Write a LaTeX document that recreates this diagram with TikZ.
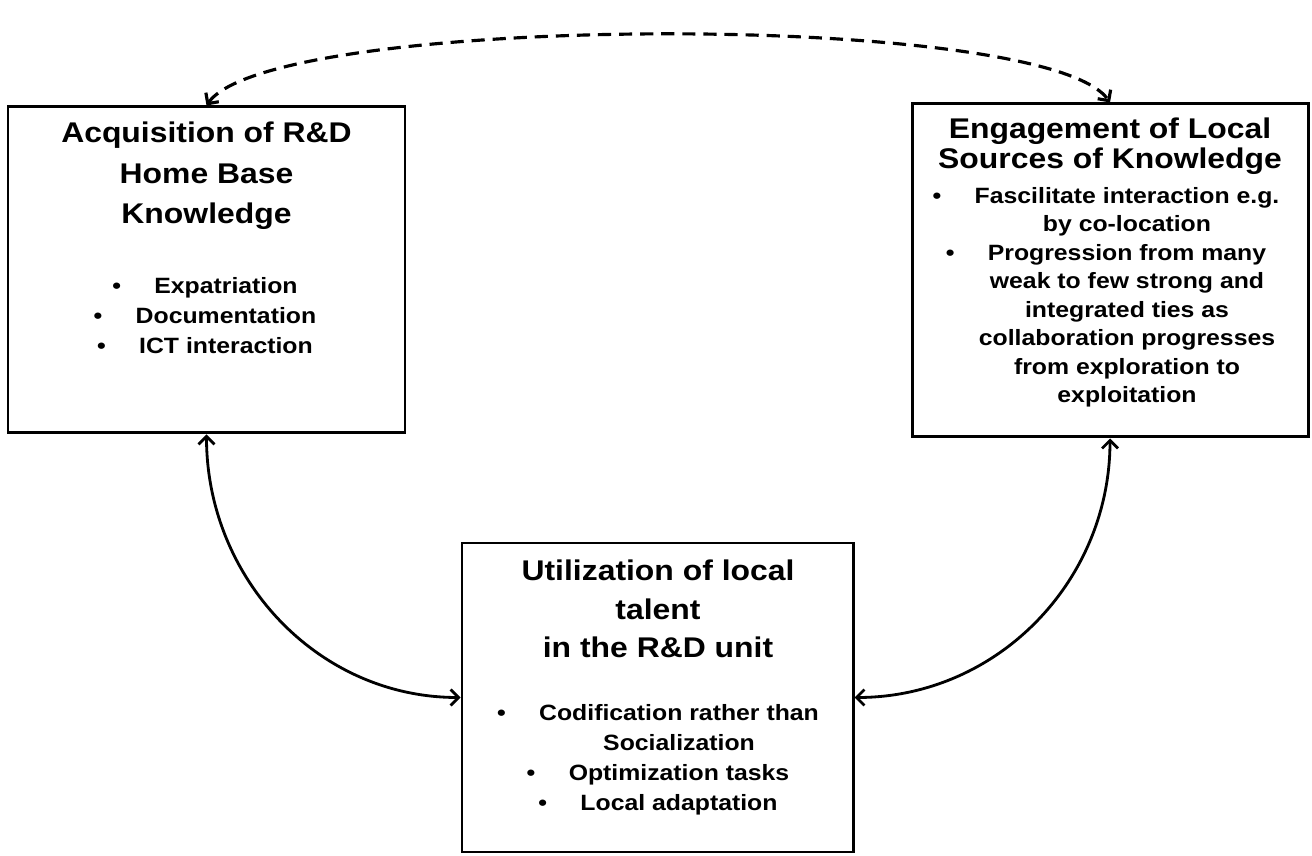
\documentclass[tikz,border=0pt]{standalone}
\usepackage{fontspec}
\setmainfont{Liberation Sans}[FakeStretch=1.12]
\usetikzlibrary{arrows.meta}

% bullet hanging to the left of a centred line
\newcommand{\itemdot}{\llap{\textbullet\hspace{19pt}}}

\begin{document}
\begin{tikzpicture}[
  panel/.style={rectangle, draw, line width=1.7pt, inner sep=0pt},
  heading/.style={align=center, anchor=north, inner sep=0pt,
    font=\fontsize{16.2}{22.8}\selectfont\bfseries},
  items/.style={align=center, anchor=north, inner sep=0pt,
    font=\fontsize{12.6}{17}\selectfont\bfseries},
  link/.style={line width=1.6pt,
    {Straight Barb[length=4.5pt,width=9pt]}-{Straight Barb[length=4.5pt,width=9pt]}},
  crosslink/.style={link, line width=1.8pt, dash pattern=on 7.5pt off 4.5pt}
]
\useasboundingbox (0,0) rectangle (26.24,17.12);

% --- Boxes ---
\node[panel, minimum width=7.94cm, minimum height=6.52cm] (acq)  at (4.13, 11.72) {};
\node[panel, minimum width=7.92cm, minimum height=6.66cm] (eng)  at (22.2, 11.71) {};
\node[panel, minimum width=7.82cm, minimum height=6.18cm] (util) at (13.15, 3.17) {};

% --- Left box text ---
\node[heading] (acqtitle) at (4.13, 14.68)
  {Acquisition of R\&D\\Home Base\\Knowledge};
\node[items] (acqlist) at (4.52, 11.58)
  {\itemdot Expatriation\\\itemdot Documentation\\\itemdot ICT interaction};

% --- Right box text ---
\node[heading, font=\fontsize{16.2}{17}\selectfont\bfseries] (engtitle) at (22.2, 14.76)
  {Engagement of Local\\Sources of Knowledge};
\node[items, font=\fontsize{12.6}{16.2}\selectfont\bfseries] (englist) at (22.54, 13.38)
  {\itemdot Fascilitate interaction e.g.\\by co-location\\
   \itemdot Progression from many\\weak to few strong and\\integrated ties as\\
   collaboration progresses\\from exploration to\\exploitation};

% --- Bottom box text ---
\node[heading, font=\fontsize{16.2}{21.9}\selectfont\bfseries] (utiltitle) at (13.16, 5.92)
  {Utilization of local\\talent\\in the R\&D unit};
\node[items] (utillist) at (13.58, 3.04)
  {\itemdot Codification rather than\\Socialization\\
   \itemdot Optimization tasks\\\itemdot Local adaptation};

% --- Connectors ---
\draw[crosslink] (acq.north) .. controls +(1.3,1.85) and +(-1.3,1.85) .. (eng.north);
\draw[link] (acq.south) to[out=-90, in=180] (util.west);
\draw[link] (eng.south) to[out=-90, in=0] (util.east);

\end{tikzpicture}
\end{document}
